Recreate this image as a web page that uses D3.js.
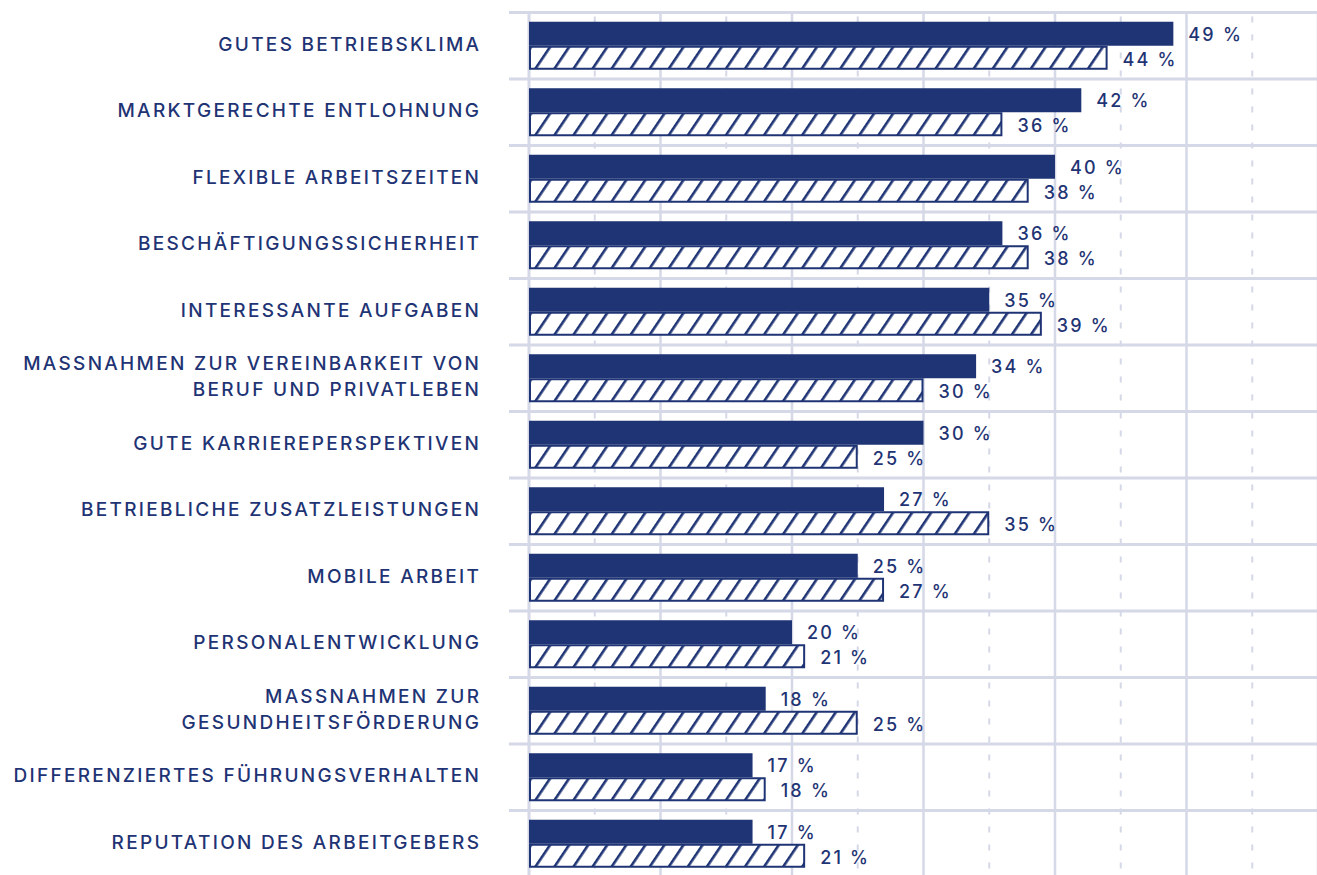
<!DOCTYPE html>
<html lang="de">
<head>
<meta charset="utf-8">
<script src="https://cdn.jsdelivr.net/npm/d3@7"></script>
<style>
  html, body { margin: 0; padding: 0; background: #fff; }
  svg { display: block; }
  text { font-family: Inter, Lato, "Noto Sans", sans-serif; fill: #1f3474; font-weight: 500; }
</style>
</head>
<body>
<svg id="chart" width="1317" height="875"></svg>
<script>
// Kategorien (mehrzeilige Beschriftungen mit "\n" getrennt)
const categories = [
  "GUTES BETRIEBSKLIMA",
  "MARKTGERECHTE ENTLOHNUNG",
  "FLEXIBLE ARBEITSZEITEN",
  "BESCHÄFTIGUNGSSICHERHEIT",
  "INTERESSANTE AUFGABEN",
  "MASSNAHMEN ZUR VEREINBARKEIT VON\nBERUF UND PRIVATLEBEN",
  "GUTE KARRIEREPERSPEKTIVEN",
  "BETRIEBLICHE ZUSATZLEISTUNGEN",
  "MOBILE ARBEIT",
  "PERSONALENTWICKLUNG",
  "MASSNAHMEN ZUR\nGESUNDHEITSFÖRDERUNG",
  "DIFFERENZIERTES FÜHRUNGSVERHALTEN",
  "REPUTATION DES ARBEITGEBERS"
];
// Werte in Prozent: gefüllte Balken bzw. schraffierte Balken
const seriesSolid   = [49, 42, 40, 36, 35, 34, 30, 27, 25, 20, 18, 17, 17];
const seriesHatched = [44, 36, 38, 38, 39, 30, 25, 35, 27, 21, 25, 18, 21];
const majorTicks = [0, 10, 20, 30, 40, 50, 60];
const minorTicks = [5, 15, 25, 35, 45, 55];

const navy = "#1f3474";
const gridColor = "#d5d8e6";

const svg = d3.select("#chart");

const x0 = 529, x1 = 1318;
const x = d3.scaleLinear().domain([0, 60]).range([x0, x1]);

const yTop = 12.5, step = 66.5;
const y = d3.scaleBand()
  .domain(categories)
  .range([yTop, yTop + step * categories.length])
  .paddingInner(0).paddingOuter(0);

const sub = d3.scaleBand()
  .domain(["solid", "hatched"])
  .range([0, y.bandwidth()])
  .paddingInner(0)
  .paddingOuter(0.385);

// Schraffur-Muster
const defs = svg.append("defs");
const pat = defs.append("pattern")
  .attr("id", "hatch")
  .attr("patternUnits", "userSpaceOnUse")
  .attr("width", 15.8)
  .attr("height", 20)
  .attr("patternTransform", "rotate(34)");
pat.append("rect").attr("width", 15.8).attr("height", 20).attr("fill", "#fff");
pat.append("rect").attr("x", 0).attr("y", 0).attr("width", 2.6).attr("height", 20).attr("fill", navy);

const grid = svg.append("g");
const yBottom = yTop + step * categories.length;

// gestrichelte Zwischenlinien
grid.selectAll("line.minor").data(minorTicks).join("line")
  .attr("class", "minor")
  .attr("x1", d => x(d)).attr("x2", d => x(d))
  .attr("y1", yTop + 4).attr("y2", yBottom)
  .attr("stroke", gridColor).attr("stroke-width", 2)
  .attr("stroke-dasharray", "6 12");

// horizontale Trennlinien
grid.selectAll("line.h").data(d3.range(categories.length + 1)).join("line")
  .attr("class", "h")
  .attr("x1", 509).attr("x2", 1317)
  .attr("y1", i => yTop + i * step).attr("y2", i => yTop + i * step)
  .attr("stroke", gridColor).attr("stroke-width", 3);

// durchgezogene Gitterlinien
grid.selectAll("line.major").data(majorTicks).join("line")
  .attr("class", "major")
  .attr("x1", d => x(d)).attr("x2", d => x(d))
  .attr("y1", yTop - 1.5).attr("y2", yBottom)
  .attr("stroke", gridColor).attr("stroke-width", d => d === 0 ? 3 : 2.5);

const rows = svg.append("g").selectAll("g.row")
  .data(categories.map((c, i) => ({ c, a: seriesSolid[i], b: seriesHatched[i] })))
  .join("g")
  .attr("class", "row")
  .attr("transform", d => `translate(0,${y(d.c)})`);

rows.append("rect")
  .attr("x", x(0))
  .attr("y", sub("solid"))
  .attr("width", d => x(d.a) - x(0))
  .attr("height", sub.bandwidth())
  .attr("fill", navy);

rows.append("rect")
  .attr("x", x(0) + 1)
  .attr("y", sub("hatched") + 1)
  .attr("width", d => x(d.b) - x(0) - 2)
  .attr("height", sub.bandwidth() - 2)
  .attr("fill", "url(#hatch)")
  .attr("stroke", navy)
  .attr("stroke-width", 2);

// Wertebeschriftungen
const valueSpacing = 2.2;
rows.append("text")
  .attr("x", d => x(d.a) + 15)
  .attr("y", sub("solid") + sub.bandwidth() / 2 + 2)
  .attr("dominant-baseline", "middle")
  .attr("font-size", 18)
  .attr("letter-spacing", valueSpacing)
  .text(d => `${d.a} %`);

rows.append("text")
  .attr("x", d => x(d.b) + 15)
  .attr("y", sub("hatched") + sub.bandwidth() / 2 + 3)
  .attr("dominant-baseline", "middle")
  .attr("font-size", 18)
  .attr("letter-spacing", valueSpacing)
  .text(d => `${d.b} %`);

// Kategorienbeschriftungen
const labelSpacing = 2.3;
const labelRight = 479 + labelSpacing;
rows.append("text")
  .attr("x", labelRight)
  .attr("text-anchor", "end")
  .attr("font-size", 19)
  .attr("letter-spacing", labelSpacing)
  .each(function(d) {
    const lines = d.c.split("\n");
    const lh = 26;
    const mid = y.bandwidth() / 2;
    d3.select(this).selectAll("tspan").data(lines).join("tspan")
      .attr("x", labelRight)
      .attr("y", (l, i) => mid + (i - (lines.length - 1) / 2) * lh)
      .attr("dominant-baseline", "middle")
      .text(l => l);
  });
</script>
</body>
</html>
